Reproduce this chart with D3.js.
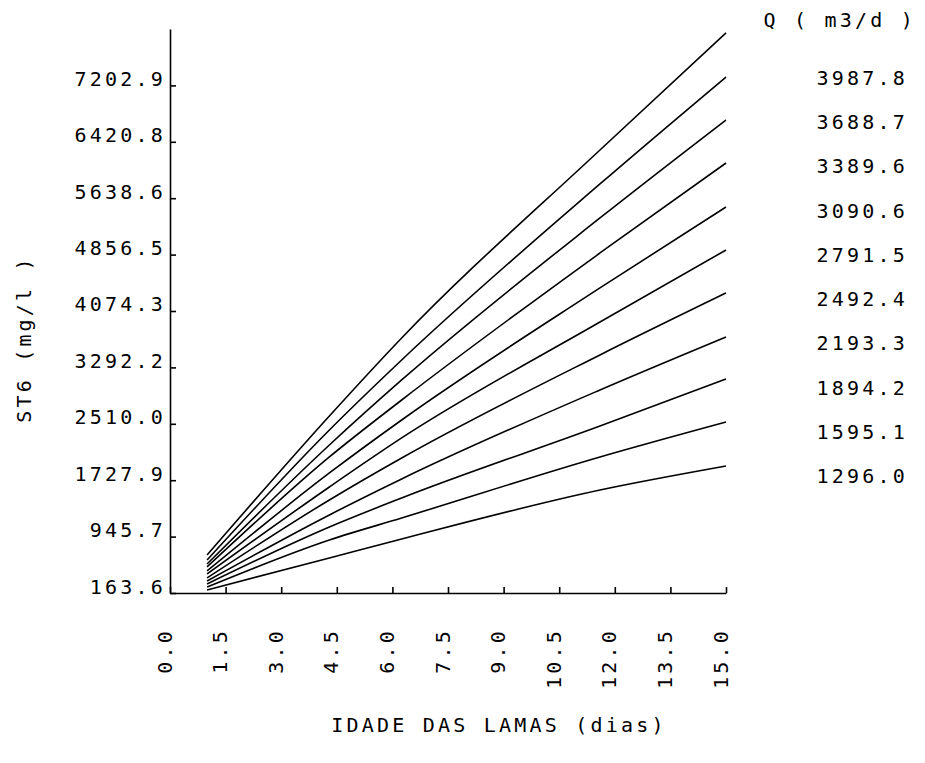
<!DOCTYPE html>
<html>
<head>
<meta charset="utf-8">
<script src="https://cdn.jsdelivr.net/npm/d3@7"></script>
<style>
  body { margin: 0; background: #fff; }
  svg text { font-family: "DejaVu Sans Mono", monospace; font-size: 20px; letter-spacing: 3.2px; fill: #000; }
</style>
</head>
<body>
<div id="vis"></div>
<script>
const FRAME_WIDTH = 925;
const FRAME_HEIGHT = 763;

// Axis ticks
const X_TICKS = [0, 1.5, 3, 4.5, 6, 7.5, 9, 10.5, 12, 13.5, 15];
const Y_TICKS = [163.6, 945.7, 1727.9, 2510.0, 3292.2, 4074.3, 4856.5, 5638.6, 6420.8, 7202.9];
const Y_MAX = 7984.9;

// Legend (flow Q, m3/d)
const Q_LABELS = ["3987.8", "3688.7", "3389.6", "3090.6", "2791.5", "2492.4", "2193.3", "1894.2", "1595.1", "1296.0"];

// Sludge age (dias) where the curves were read
const DAYS = [1.0, 4.3, 6.25, 11.6, 15.0];

// ST (mg/l) per curve, top to bottom
const ST_TOP    = [691, 2618, 3700, 6307, 7930];
const ST_3987_8 = [621, 2424, 3395, 5836, 7319];
const ST_3688_7 = [566, 2216, 3118, 5364, 6723];
const ST_3389_6 = [525, 2050, 2840, 4879, 6127];
const ST_3090_6 = [469, 1828, 2563, 4394, 5517];
const ST_2791_5 = [427, 1634, 2314, 3922, 4920];
const ST_2492_4 = [372, 1454, 2036, 3465, 4324];
const ST_2193_3 = [330, 1246, 1745, 2979, 3714];
const ST_1894_2 = [289, 1079, 1481, 2480, 3132];
const ST_1595_1 = [247, 899, 1204, 2050, 2535];
const ST_1296_0 = [206, 649, 913, 1592, 1925];

const SERIES = [ST_TOP, ST_3987_8, ST_3688_7, ST_3389_6, ST_3090_6, ST_2791_5,
                ST_2492_4, ST_2193_3, ST_1894_2, ST_1595_1, ST_1296_0];

const MARGINS = { left: 170, right: 199, top: 29, bottom: 170 };

const FRAME = d3.select("#vis")
  .append("svg")
  .attr("width", FRAME_WIDTH)
  .attr("height", FRAME_HEIGHT);

const X_SCALE = d3.scaleLinear()
  .domain([0, 15])
  .range([MARGINS.left, FRAME_WIDTH - MARGINS.right]);

const Y_SCALE = d3.scaleLinear()
  .domain([163.6, Y_MAX])
  .range([FRAME_HEIGHT - MARGINS.bottom, MARGINS.top]);

const fmt = d3.format(".1f");

// curves
const LINE = d3.line()
  .x((d, i) => X_SCALE(DAYS[i]))
  .y((d) => Y_SCALE(d))
  .curve(d3.curveMonotoneX);

FRAME.selectAll(".curve")
  .data(SERIES)
  .enter()
  .append("path")
  .attr("class", "curve")
  .attr("d", LINE)
  .attr("fill", "none")
  .attr("stroke", "#000")
  .attr("stroke-width", 1.6);

// y axis, ticks pointing inside
const Y_AXIS = FRAME.append("g")
  .attr("transform", `translate(${MARGINS.left}, 0)`)
  .call(d3.axisLeft(Y_SCALE)
    .tickValues(Y_TICKS)
    .tickFormat(fmt)
    .tickSizeInner(-6)
    .tickSizeOuter(0)
    .tickPadding(4));

Y_AXIS.selectAll("text")
  .attr("dy", "0")
  .style("font-family", null)
  .style("font-size", null);

// x axis
const X_AXIS = FRAME.append("g")
  .attr("transform", `translate(0, ${Y_SCALE(163.6)})`)
  .call(d3.axisBottom(X_SCALE)
    .tickValues(X_TICKS)
    .tickFormat(fmt)
    .tickSizeInner(-6)
    .tickSizeOuter(0));

X_AXIS.selectAll("text")
  .attr("transform", "rotate(-90)")
  .attr("x", -35)
  .attr("y", 1)
  .attr("dy", "0")
  .attr("text-anchor", "end");

FRAME.selectAll(".domain, .tick line")
  .attr("stroke", "#000")
  .attr("stroke-width", 1.6);
FRAME.selectAll(".tick text").attr("fill", "#000");
FRAME.selectAll("g").attr("font-family", null).attr("font-size", null);

// axis titles
FRAME.append("text")
  .attr("x", 499)
  .attr("y", 732)
  .attr("text-anchor", "middle")
  .text("IDADE DAS LAMAS (dias)");

FRAME.append("text")
  .attr("transform", "translate(31, 339) rotate(-90)")
  .attr("text-anchor", "middle")
  .text("ST6 (mg/l )");

// legend
FRAME.append("text")
  .attr("x", 916)
  .attr("y", 27)
  .attr("text-anchor", "end")
  .text("Q ( m3/d )");

const LEG_Y = d3.scaleLinear()
  .domain([0, Q_LABELS.length - 1])
  .range([85, 483]);

FRAME.selectAll(".leg")
  .data(Q_LABELS)
  .enter()
  .append("text")
  .attr("class", "leg")
  .attr("x", 908)
  .attr("y", (d, i) => LEG_Y(i))
  .attr("text-anchor", "end")
  .text((d) => d);
</script>
</body>
</html>
